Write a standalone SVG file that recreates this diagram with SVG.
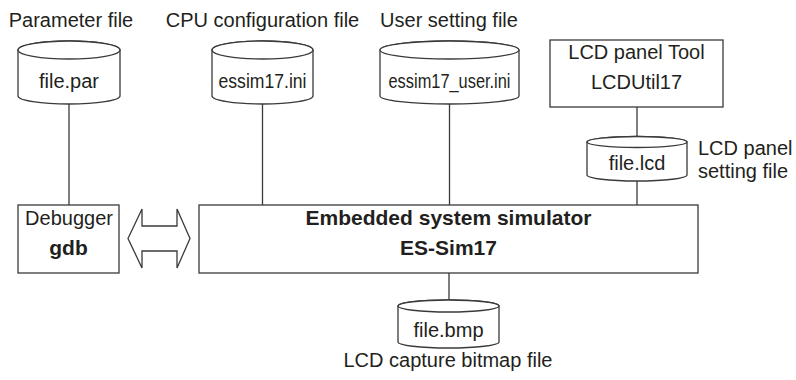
<svg xmlns="http://www.w3.org/2000/svg" width="796" height="380" viewBox="0 0 796 380">
<style>
  .shape { fill: #ffffff; stroke: #3a3a3a; stroke-width: 1.3; }
  .conn { fill: none; stroke: #3a3a3a; stroke-width: 1.3; }
  text { font-family: "Liberation Sans", Arial, sans-serif; font-size: 20px; fill: #231f20; text-anchor: middle; }
  .b { font-weight: bold; font-size: 21px; }
  .l { text-anchor: start; }
</style>
<rect width="796" height="380" fill="#ffffff"/>
<g id="connectors">
  <line class="conn" x1="69" y1="104" x2="69" y2="205"/>
  <line class="conn" x1="262.5" y1="104" x2="262.5" y2="205"/>
  <line class="conn" x1="449.5" y1="104" x2="449.5" y2="205"/>
  <line class="conn" x1="637" y1="107" x2="637" y2="137"/>
  <line class="conn" x1="637" y1="181" x2="637" y2="205"/>
  <line class="conn" x1="449" y1="273" x2="449" y2="300"/>
  <polygon id="bidir-arrow" class="shape" points="128,238.5 142,209 142,226 177,226 177,209 190,238.5 177,268 177,251 142,251 142,268"/>
</g>
<g id="param-file">
  <text x="71" y="27">Parameter file</text>
  <path class="shape" d="M18,50 V96 A51,8 0 0 0 120,96 V50 A51,9 0 0 0 18,50 Z"/>
  <path class="shape" d="M18,50 A51,9 0 0 1 120,50 A51,9 0 0 1 18,50 Z"/>
  <text x="69" y="88">file.par</text>
</g>
<g id="cpu-config">
  <text x="262.5" y="27">CPU configuration file</text>
  <path class="shape" d="M212,50 V96 A50.5,8 0 0 0 313,96 V50 A50.5,9 0 0 0 212,50 Z"/>
  <path class="shape" d="M212,50 A50.5,9 0 0 1 313,50 A50.5,9 0 0 1 212,50 Z"/>
  <text x="262.5" y="88" font-size="19" textLength="88" lengthAdjust="spacingAndGlyphs">essim17.ini</text>
</g>
<g id="user-setting">
  <text x="449" y="27">User setting file</text>
  <path class="shape" d="M380,50 V96 A69.5,8 0 0 0 519,96 V50 A69.5,9 0 0 0 380,50 Z"/>
  <path class="shape" d="M380,50 A69.5,9 0 0 1 519,50 A69.5,9 0 0 1 380,50 Z"/>
  <text x="449.5" y="88" font-size="19" textLength="122" lengthAdjust="spacingAndGlyphs">essim17_user.ini</text>
</g>
<g id="lcd-tool">
  <rect class="shape" x="550" y="40" width="173" height="67"/>
  <text x="636.5" y="59">LCD panel Tool</text>
  <text x="636.5" y="89">LCDUtil17</text>
</g>
<g id="lcd-file">
  <path class="shape" d="M587,142 V175 A50,6 0 0 0 687,175 V142 A50,5.5 0 0 0 587,142 Z"/>
  <path class="shape" d="M587,142 A50,5.5 0 0 1 687,142 A50,5.5 0 0 1 587,142 Z"/>
  <text x="637" y="170">file.lcd</text>
  <text class="l" x="698" y="155">LCD panel</text>
  <text class="l" x="698" y="178">setting file</text>
</g>
<g id="debugger">
  <rect class="shape" x="18" y="205" width="101" height="68"/>
  <text x="69" y="225">Debugger</text>
  <text class="b" x="68.5" y="255">gdb</text>
</g>
<g id="simulator">
  <rect class="shape" x="199" y="205" width="499" height="68"/>
  <text class="b" x="448.5" y="225">Embedded system simulator</text>
  <text class="b" x="448.5" y="255">ES-Sim17</text>
</g>
<g id="bmp-file">
  <path class="shape" d="M398,306 V342 A50.5,6 0 0 0 499,342 V306 A50.5,6 0 0 0 398,306 Z"/>
  <path class="shape" d="M398,306 A50.5,6 0 0 1 499,306 A50.5,6 0 0 1 398,306 Z"/>
  <text x="448.5" y="337">file.bmp</text>
  <text x="448" y="367">LCD capture bitmap file</text>
</g>
</svg>
